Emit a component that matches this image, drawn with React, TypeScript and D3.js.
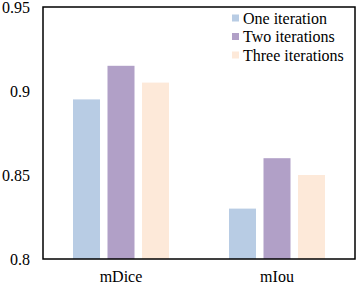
import {useRef, useEffect} from "react";
import * as d3 from "d3";

const categories = ["mDice", "mIou"];
const seriesNames = ["One iteration", "Two iterations", "Three iterations"];
const oneIteration = [0.895, 0.83];
const twoIterations = [0.915, 0.86];
const threeIterations = [0.905, 0.85];
const yTicks = [0.8, 0.85, 0.9, 0.95];
const colors = ["#b8cce4", "#b1a0c7", "#fde9d9"];

export default function App() {
  const ref = useRef<SVGSVGElement>(null);
  const width = 357, height = 287;
  const m = {left: 43, right: 2, top: 7, bottom: 28};

  useEffect(() => {
    const svg = d3.select(ref.current);
    svg.selectAll("*").remove();
    const series = [oneIteration, twoIterations, threeIterations];
    const x = d3.scaleBand(categories, [m.left, width - m.right]);
    const inner = d3.scaleBand(d3.range(3), [0, x.bandwidth()]).paddingInner(0.217).paddingOuter(0.87);
    const y = d3.scaleLinear([0.8, 0.95], [height - m.bottom, m.top]);

    series.forEach((vals, s) => {
      svg.append("g").selectAll("rect")
        .data(vals)
        .enter()
        .append("rect")
        .attr("x", (d, i) => x(categories[i])! + inner(s)!)
        .attr("y", d => y(d))
        .attr("width", inner.bandwidth())
        .attr("height", d => y(0.8) - y(d))
        .attr("fill", colors[s]);
    });

    svg.append("rect")
      .attr("x", m.left).attr("y", m.top)
      .attr("width", width - m.left - m.right)
      .attr("height", height - m.top - m.bottom)
      .attr("fill", "none").attr("stroke", "#000").attr("stroke-width", 1.5);

    svg.append("g").selectAll("text")
      .data(yTicks)
      .enter()
      .append("text")
      .attr("x", 30)
      .attr("y", d => y(d))
      .attr("dy", "0.35em")
      .attr("text-anchor", "end")
      .text(d => d3.format("")(d));

    svg.append("g").selectAll("text")
      .data(categories)
      .enter()
      .append("text")
      .attr("x", d => x(d)! + x.bandwidth() / 2)
      .attr("y", height - 5)
      .attr("text-anchor", "middle")
      .text(d => d);

    const leg = svg.append("g").selectAll("g")
      .data(seriesNames)
      .enter()
      .append("g")
      .attr("transform", (d, i) => "translate(232," + (18 + i * 18.5) + ")");
    leg.append("rect")
      .attr("x", 0).attr("y", -3.5)
      .attr("width", 7).attr("height", 7)
      .attr("fill", (d, i) => colors[i]);
    leg.append("text")
      .attr("x", 11)
      .attr("dy", "0.35em")
      .text(d => d);
  }, []);

  return (
    <svg ref={ref} width={width} height={height}
      style={{position: "absolute", left: 0, top: 0, background: "#fff",
        fontFamily: "'Times New Roman', 'Liberation Serif', 'DejaVu Serif', serif", fontSize: 16}} />
  );
}
